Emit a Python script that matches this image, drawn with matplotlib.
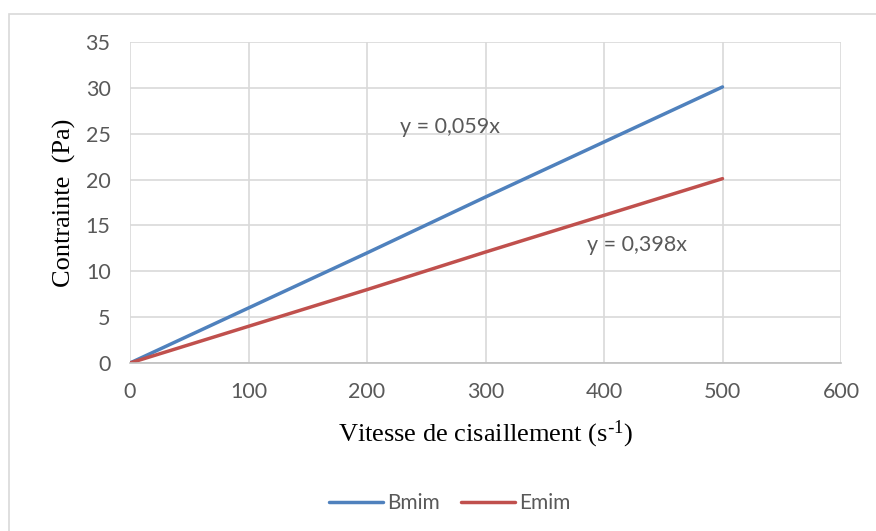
import matplotlib.pyplot as plt
from matplotlib.patches import Rectangle

# shear rate (1/s) and stress (Pa) for each ionic liquid
shear_rate = [0, 100, 200, 300, 400, 500]
bmim_stress = [0, 6.0, 12.0, 18.1, 24.1, 30.1]
emim_stress = [0, 4.0, 8.0, 12.1, 16.1, 20.1]

series_names = ['Bmim', 'Emim']
series_colors = ['#4F81BD', '#C0504D']
equations = ['y = 0,059x', 'y = 0,398x']
equation_pos = [(270, 25.7), (428, 12.9)]

x_ticks = [0, 100, 200, 300, 400, 500, 600]
y_ticks = [0, 5, 10, 15, 20, 25, 30, 35]

tick_font = 'Lato'
label_font = 'Liberation Serif'
text_gray = '#595959'

fig = plt.figure(figsize=(8.76, 5.31), dpi=100)
plt.rcParams['mathtext.default'] = 'regular'

# light frame around the chart area
fig.patches.append(Rectangle((8.5 / 876, -0.1), 1.2, 1 - 13.5 / 531 + 0.1,
                             transform=fig.transFigure, fill=False,
                             edgecolor='#d9d9d9', linewidth=1.2))

ax = fig.add_axes([130 / 876, 1 - 363 / 531, 711 / 876, 321 / 531])

for ys, name, color in zip([bmim_stress, emim_stress], series_names, series_colors):
    ax.plot(shear_rate, ys, color=color, linewidth=2.5, label=name,
            solid_capstyle='round')

for eq, (ex, ey) in zip(equations, equation_pos):
    ax.text(ex, ey, eq, ha='center', va='center', fontsize=15.5,
            family=tick_font, color=text_gray)

ax.set_xlim(0, 600)
ax.set_ylim(0, 35)
ax.set_xticks(x_ticks)
ax.set_yticks(y_ticks)
ax.grid(True, color='#d9d9d9', linewidth=1.2)
ax.set_axisbelow(True)
for side in ['top', 'right', 'left']:
    ax.spines[side].set_visible(False)
ax.spines['bottom'].set_color('#bfbfbf')
ax.spines['bottom'].set_linewidth(1.2)
ax.tick_params(length=0, labelsize=15.5, labelcolor=text_gray, pad=14)
for lbl in ax.get_xticklabels() + ax.get_yticklabels():
    lbl.set_family(tick_font)

ax.set_xlabel(r'Vitesse de cisaillement (s$^{\text{-}1}$)', fontsize=19,
              family=label_font, color='black', labelpad=12)
ax.set_ylabel('Contrainte  (Pa)', fontsize=19, family=label_font,
              color='black', labelpad=7)

leg = fig.legend(loc='center', bbox_to_anchor=(450 / 876, 1 - 503 / 531),
                 ncol=2, frameon=False, handlelength=2.6, handletextpad=0.2,
                 columnspacing=1.0, prop={'family': tick_font, 'size': 15})
for t in leg.get_texts():
    t.set_color(text_gray)

fig.savefig('out.png', dpi=100)
